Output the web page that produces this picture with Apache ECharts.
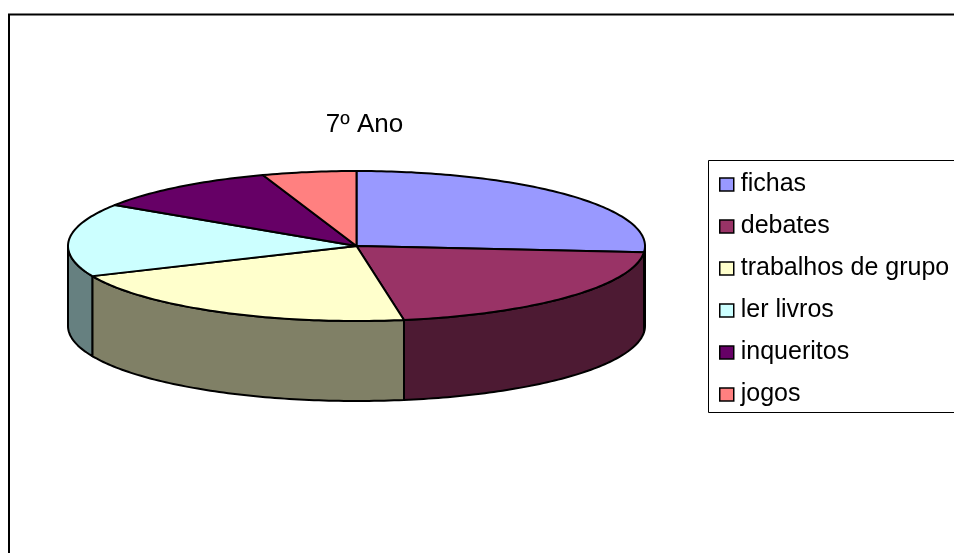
<!DOCTYPE html>
<html>
<head>
<meta charset="utf-8">
<style>html,body{margin:0;padding:0;background:#fff}#c{width:954px;height:553px}</style>
<script src="https://cdn.jsdelivr.net/npm/echarts@6/dist/echarts.min.js"></script>
</head>
<body>
<div id="c"></div>
<script>
var categories = ['fichas', 'debates', 'trabalhos de grupo', 'ler livros', 'inqueritos', 'jogos'];
var values = [5, 4, 4, 3, 2, 1];
var topColors = ['#9999FF', '#993366', '#FFFFCC', '#CCFFFF', '#660066', '#FF8080'];
var sideColors = ['#4D4D80', '#4D1A33', '#808066', '#668080', '#330033', '#804040'];
var chartTitle = '7\u00BA Ano';

var FONT = '"Liberation Sans", Arial, sans-serif';
var total = values.reduce(function (a, b) { return a + b; }, 0);
var pie = { cx: 356.5, cy: 246, rx: 288.5, ry: 75, depth: 80 };

function startAngle(i) {
  var s = 0;
  for (var k = 0; k < i; k++) s += values[k];
  return s / total * 360;
}
function pt(deg, dy) {
  var r = deg * Math.PI / 180;
  return [pie.cx + pie.rx * Math.sin(r), pie.cy - pie.ry * Math.cos(r) + (dy || 0)];
}
function arc(a, b, dy) {
  var pts = [], n = Math.max(2, Math.ceil(Math.abs(b - a)));
  for (var j = 0; j <= n; j++) pts.push(pt(a + (b - a) * j / n, dy));
  return pts;
}
function stroke(fill) {
  return { fill: fill, stroke: '#000', lineWidth: 2, lineJoin: 'round' };
}
function topItem(i) {
  return function (params, api) {
    var a = startAngle(i), b = a + api.value(0) / total * 360;
    return {
      type: 'polygon', silent: true,
      shape: { points: [[pie.cx, pie.cy]].concat(arc(a, b)) },
      style: stroke(topColors[i])
    };
  };
}
function sideItem(params, api) {
  var i = params.dataIndex;
  var a = Math.max(startAngle(i), 90);
  var b = Math.min(startAngle(i) + api.value(0) / total * 360, 270);
  if (b <= a) return { type: 'group', children: [] };
  return {
    type: 'polygon', silent: true,
    shape: { points: arc(a, b).concat(arc(b, a, pie.depth)) },
    style: stroke(sideColors[i])
  };
}

var series = [{
  type: 'custom', name: 'lados', coordinateSystem: 'none', z: 1, animation: false,
  renderItem: sideItem,
  data: values.map(function (v) { return [v]; })
}];
categories.forEach(function (name, i) {
  series.push({
    type: 'custom', name: name, coordinateSystem: 'none', z: 2, animation: false,
    renderItem: topItem(i),
    itemStyle: { color: topColors[i] },
    data: [[values[i]]]
  });
});

var chart = echarts.init(document.getElementById('c'), null, { renderer: 'canvas' });
chart.setOption({
  animation: false,
  backgroundColor: '#fff',
  title: {
    text: chartTitle, left: 364.5, top: 112, textAlign: 'center', padding: 0,
    textStyle: { fontFamily: FONT, fontSize: 26, fontWeight: 'normal', color: '#000' }
  },
  legend: {
    orient: 'vertical', left: 708.5, top: 160.5,
    padding: [10, 40, 4, 10.5],
    itemGap: 14, itemWidth: 14, itemHeight: 13,
    icon: 'rect', selectedMode: false,
    borderColor: '#000', borderWidth: 1, backgroundColor: '#fff',
    itemStyle: { borderColor: '#000', borderWidth: 1.5 },
    textStyle: { fontFamily: FONT, fontSize: 25, color: '#000', padding: [0, 0, 4, 2], lineHeight: 24 },
    data: categories.map(function (n) { return { name: n, icon: 'rect' }; })
  },
  graphic: [{
    type: 'rect', silent: true, z: 0,
    shape: { x: 9, y: 14.5, width: 1500, height: 1500 },
    style: { fill: 'none', stroke: '#000', lineWidth: 2 }
  }],
  tooltip: { show: false },
  series: series
});
</script>
</body>
</html>
